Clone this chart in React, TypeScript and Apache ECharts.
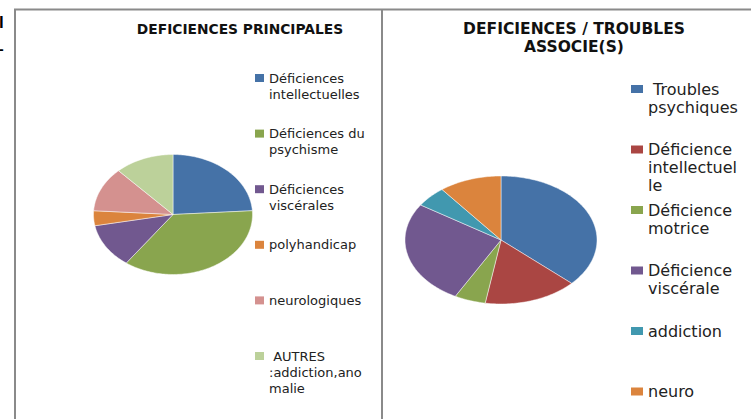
import React, { useEffect, useRef } from "react";
import * as echarts from "echarts";

const LEFT_TITLE = "DEFICIENCES PRINCIPALES";
const LEFT_CATEGORIES = [
  "Déficiences\nintellectuelles",
  "Déficiences du\npsychisme",
  "Déficiences\nviscérales",
  "polyhandicap",
  "neurologiques",
  " AUTRES\n:addiction,ano\nmalie",
];
const LEFT_VALUES = [6, 9, 3, 1, 3, 3];
const LEFT_COLORS = ["#4572A7", "#89A54E", "#71588F", "#DB843D", "#D4918F", "#BCD19A"];

const RIGHT_TITLE = "DEFICIENCES / TROUBLES\nASSOCIE(S)";
const RIGHT_CATEGORIES = [
  " Troubles\npsychiques",
  "Déficience\nintellectuel\nle",
  "Déficience\nmotrice",
  "Déficience\nviscérale",
  "addiction",
  "neuro",
];
const RIGHT_VALUES = [7, 3, 1, 5, 1, 2];
const RIGHT_COLORS = ["#4572A7", "#AA4643", "#89A54E", "#71588F", "#4198AF", "#DB843D"];

function ellipsePie(
  name: string,
  values: number[],
  categories: string[],
  colors: string[],
  cx: number,
  cy: number,
  rx: number,
  ry: number
) {
  const total = values.reduce((a, b) => a + b, 0);
  return {
    type: "custom",
    name,
    coordinateSystem: "none",
    data: values.map((v, i) => ({ value: v, name: categories[i] })),
    renderItem: (params: any, api: any) => {
      const idx = params.dataIndex;
      let acc = 0;
      for (let j = 0; j < idx; j++) acc += values[j];
      const v = api.value(0);
      const a0 = (acc / total) * Math.PI * 2;
      const a1 = ((acc + v) / total) * Math.PI * 2;
      const n = Math.max(2, Math.ceil((a1 - a0) / 0.02));
      const pts: number[][] = [[cx, cy]];
      for (let k = 0; k <= n; k++) {
        const t = a0 + ((a1 - a0) * k) / n;
        pts.push([cx + rx * Math.sin(t), cy - ry * Math.cos(t)]);
      }
      return {
        type: "polygon",
        shape: { points: pts },
        style: { fill: colors[idx], stroke: "rgba(255,255,255,0.6)", lineWidth: 0.8 },
      };
    },
  };
}

function legendGraphics(
  categories: string[],
  colors: string[],
  markerX: number,
  markerW: number,
  markerH: number,
  textX: number,
  firstY: number,
  step: number,
  fontSize: number,
  lineHeight: number
) {
  const els: any[] = [];
  categories.forEach((c, i) => {
    const y = firstY + i * step;
    els.push({
      type: "rect",
      shape: { x: markerX, y: y - markerH / 2, width: markerW, height: markerH },
      style: { fill: colors[i] },
    });
    els.push({
      type: "text",
      x: textX,
      y: y - lineHeight / 2,
      style: {
        text: c,
        fontFamily: "DejaVu Sans",
        fontSize,
        lineHeight,
        fill: "#222",
        verticalAlign: "top",
        align: "left",
      },
    });
  });
  return els;
}

export default function App() {
  const ref = useRef<HTMLDivElement>(null);
  useEffect(() => {
    if (!ref.current) return;
    const chart = echarts.init(ref.current, undefined, { renderer: "svg" });
    const border = "#8a8a8a";
    chart.setOption({
      animation: false,
      backgroundColor: "#ffffff",
      title: [
        {
          text: LEFT_TITLE,
          left: 235,
          top: 15,
          textAlign: "center",
          textStyle: { fontFamily: "DejaVu Sans", fontWeight: "bold", fontSize: 13.8, color: "#111", lineHeight: 18 },
        },
        {
          text: RIGHT_TITLE,
          left: 569,
          top: 15,
          textAlign: "center",
          textStyle: { fontFamily: "DejaVu Sans", fontWeight: "bold", fontSize: 15.5, color: "#111", lineHeight: 18 },
        },
      ],
      series: [
        ellipsePie("DEFICIENCES PRINCIPALES", LEFT_VALUES, LEFT_CATEGORIES, LEFT_COLORS, 173, 214.5, 79.5, 60),
        ellipsePie("DEFICIENCES / TROUBLES ASSOCIE(S)", RIGHT_VALUES, RIGHT_CATEGORIES, RIGHT_COLORS, 501, 240, 96, 64),
      ],
      graphic: [
        { type: "line", shape: { x1: 14, y1: 9.5, x2: 751, y2: 9.5 }, style: { stroke: border, lineWidth: 2 } },
        { type: "line", shape: { x1: 15, y1: 9, x2: 15, y2: 419 }, style: { stroke: border, lineWidth: 2 } },
        { type: "line", shape: { x1: 382, y1: 9, x2: 382, y2: 419 }, style: { stroke: border, lineWidth: 2 } },
        {
          type: "text",
          x: -1,
          y: 14,
          style: { text: "l", fontFamily: "Liberation Sans", fontWeight: "bold", fontSize: 17, fill: "#000", verticalAlign: "top" },
        },
        {
          type: "text",
          x: -1,
          y: 49,
          style: { text: "-", fontFamily: "Liberation Sans", fontWeight: "bold", fontSize: 14, fill: "#000", verticalAlign: "middle" },
        },
        ...legendGraphics(LEFT_CATEGORIES, LEFT_COLORS, 255, 9, 8, 269, 78, 55.6, 13, 16),
        ...legendGraphics(RIGHT_CATEGORIES, RIGHT_COLORS, 631, 12, 8, 648, 89, 60.5, 16, 18),
      ],
    });
    return () => chart.dispose();
  }, []);
  return (
    <div
      ref={ref}
      style={{ position: "fixed", left: 0, top: 0, width: 751, height: 419, background: "#fff" }}
    />
  );
}
